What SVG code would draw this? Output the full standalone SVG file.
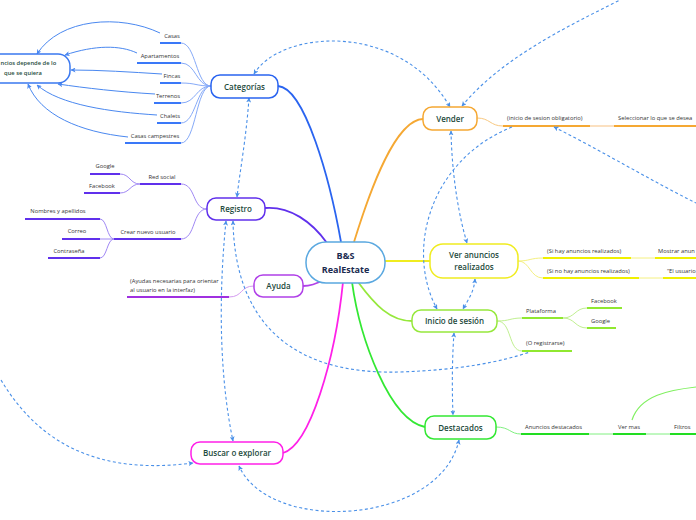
<svg xmlns="http://www.w3.org/2000/svg" width="696" height="520" viewBox="0 0 696 520">
<style>
.node{fill:#fff;stroke-width:1.5}
.nt{font-family:"Open Sans","Liberation Sans",sans-serif;font-size:8px;font-weight:600;fill:#1d4a3c;text-anchor:middle}
.ct{font-family:"Open Sans","Liberation Sans",sans-serif;font-size:9px;font-weight:700;fill:#1a2a50;text-anchor:middle}
.lt{font-family:"Open Sans","Liberation Sans",sans-serif;font-size:5.8px;fill:#333}
.m{text-anchor:middle}
.br{fill:none;stroke-width:1.8}
.sub{fill:none;stroke-width:1}
.ul{fill:none;stroke-width:2}
.dash{fill:none;stroke:#4a90e8;stroke-width:1.1;stroke-dasharray:3 2.5}
.sol{fill:none;stroke:#4a88f0;stroke-width:1}
</style>
<defs>
<marker id="ad" markerUnits="userSpaceOnUse" markerWidth="5" markerHeight="5" refX="4.5" refY="2.5" orient="auto-start-reverse"><path d="M0,0 L5,2.5 L0,5 L1.2,2.5 z" fill="#4a90e8"/></marker>
<marker id="as" markerUnits="userSpaceOnUse" markerWidth="5" markerHeight="5" refX="4.5" refY="2.5" orient="auto-start-reverse"><path d="M0,0 L5,2.5 L0,5 L1.2,2.5 z" fill="#4a88f0"/></marker>
</defs>

<g id="connectors">
<!-- main branches -->
<path class="br" stroke="#2a64f0" d="M341,242 C330,180 305,88 278,86"/>
<path class="br" stroke="#6030ec" d="M265,208 C290,206 312,222 327,243"/>
<path class="br" stroke="#b040e8" d="M303,286 C312,286 318,283 323,280"/>
<path class="br" stroke="#ff20e8" d="M343,282 C335,360 310,445 283,453"/>
<path class="br" stroke="#f5a833" d="M354,242 C370,190 395,120 423,119"/>
<path class="br" stroke="#f0ec20" d="M385,261 L430,261"/>
<path class="br" stroke="#96e83c" d="M358,282 C375,305 390,321 412,321"/>
<path class="br" stroke="#33e833" d="M352,282 C360,340 390,420 425,427"/>

<!-- Categorias subs -->
<g stroke="#86aaf8">
<path class="sub" d="M211,86 C196,86 196,43 181,43"/>
<path class="sub" d="M211,86 C196,86 196,63 181,63"/>
<path class="sub" d="M211,86 C196,86 196,83 181,83"/>
<path class="sub" d="M211,86 C196,86 196,103 181,103"/>
<path class="sub" d="M211,86 C196,86 196,123 181,123"/>
<path class="sub" d="M211,86 C196,86 196,143 181,143"/>
</g>
<g stroke="#3a78f8">
<path class="ul" d="M160,43 H181"/>
<path class="ul" d="M137,63 H181"/>
<path class="ul" d="M160,83 H181"/>
<path class="ul" d="M154,103 H181"/>
<path class="ul" d="M157,123 H181"/>
<path class="ul" d="M125,143 H181"/>
</g>
<path class="sol" marker-end="url(#as)" d="M160,33 C120,14 60,18 37,54"/>
<path class="sol" marker-end="url(#as)" d="M137,53 C120,45 95,45 65,55"/>
<path class="sol" marker-end="url(#as)" d="M162,74 C130,72 100,70 71,70"/>
<path class="sol" marker-end="url(#as)" d="M155,94 C120,92 85,88 58,84"/>
<path class="sol" marker-end="url(#as)" d="M157,115 C110,112 60,105 37,85"/>
<path class="sol" marker-end="url(#as)" d="M128,137 C80,132 40,115 28,84"/>

<!-- Registro subs -->
<g stroke="#a088f4">
<path class="sub" d="M207,209 C192,209 196,184 181,184"/>
<path class="sub" d="M207,209 C192,209 196,239 181,239"/>
<path class="sub" d="M140,184 C130,184 130,174 120,174"/>
<path class="sub" d="M140,184 C130,184 130,193 120,193"/>
<path class="sub" d="M114,239 C107,239 107,219 100,219"/>
<path class="sub" d="M114,239 L100,239"/>
<path class="sub" d="M114,239 C107,239 107,258 100,258"/>
</g>
<g stroke="#6030ec">
<path class="ul" d="M140,184 H181"/>
<path class="ul" d="M90,174 H120"/>
<path class="ul" d="M84,193 H120"/>
<path class="ul" d="M114,239 H181"/>
<path class="ul" d="M25,219 H100"/>
<path class="ul" d="M62,239 H100"/>
<path class="ul" d="M48,258 H100"/>
</g>

<!-- Ayuda sub -->
<path class="sub" stroke="#d49af0" d="M254,286 C240,286 243,297 229,297"/>
<path class="ul" stroke="#a030e0" d="M127,297 H229"/>

<!-- Vender subs -->
<path class="sub" stroke="#f8c880" d="M477,118 C490,118 490,126 503,126"/>
<path class="ul" stroke="#f5a833" d="M503,126 H590"/>
<path class="ul" stroke="#fbe0c0" d="M590,126 H614"/>
<path class="ul" stroke="#f5a833" d="M614,126 H696"/>

<!-- Ver subs -->
<path class="sub" stroke="#f4f080" d="M518,261 C530,261 530,258 543,258"/>
<path class="sub" stroke="#f4f080" d="M518,261 C530,261 530,278 543,278"/>
<path class="ul" stroke="#f0f000" d="M543,258 H631"/>
<path class="ul" stroke="#f0f000" d="M543,278 H639"/>
<path class="sub" stroke="#f4f080" d="M631,258 H655"/>
<path class="sub" stroke="#f4f080" d="M639,278 H663"/>
<path class="ul" stroke="#f0f000" d="M655,258 H696"/>
<path class="ul" stroke="#f0f000" d="M663,278 H696"/>

<!-- Inicio subs -->
<path class="sub" stroke="#c0f090" d="M497,321 C510,321 510,318 522,318"/>
<path class="sub" stroke="#c0f090" d="M497,321 C512,321 508,351 522,351"/>
<path class="sub" stroke="#c0f090" d="M563,318 C575,318 575,308 587,308"/>
<path class="sub" stroke="#c0f090" d="M563,318 C575,318 575,328 587,328"/>
<path class="ul" stroke="#90e830" d="M522,318 H563"/>
<path class="ul" stroke="#90e830" d="M522,351 H572"/>
<path class="ul" stroke="#90e830" d="M587,308 H622"/>
<path class="ul" stroke="#90e830" d="M587,328 H616"/>

<!-- Destacados subs -->
<path class="sub" stroke="#80f080" d="M496,427 C510,427 510,434 521,434"/>
<path class="ul" stroke="#22dd22" d="M521,434 H589"/>
<path class="sub" stroke="#80f080" d="M589,434 H613"/>
<path class="ul" stroke="#22dd22" d="M613,434 H646"/>
<path class="sub" stroke="#80f080" d="M646,434 H670"/>
<path class="ul" stroke="#22dd22" d="M670,434 H696"/>
<path fill="none" stroke="#80f060" stroke-width="1.2" d="M632,420 C640,395 670,390 696,387"/>

<!-- dashed relations -->
<path class="dash" marker-start="url(#ad)" marker-end="url(#ad)" d="M254,74 C280,30 400,20 450,107"/>
<path class="dash" marker-start="url(#ad)" d="M462,106 C500,60 560,30 620,0"/>
<path class="dash" marker-start="url(#ad)" marker-end="url(#ad)" d="M451,131 C452,180 460,220 467,243"/>
<path class="dash" marker-end="url(#ad)" d="M512,127 C430,160 405,250 437,309"/>
<path class="dash" marker-start="url(#ad)" marker-end="url(#ad)" d="M475,279 C474,292 468,300 463,309"/>
<path class="dash" marker-start="url(#ad)" marker-end="url(#ad)" d="M454,333 C452,360 452,390 453,415"/>
<path class="dash" marker-start="url(#ad)" marker-end="url(#ad)" d="M459,440 C440,525 270,535 239,466"/>
<path class="dash" marker-start="url(#ad)" marker-end="url(#ad)" d="M226,221 C218,300 220,380 233,441"/>
<path class="dash" marker-start="url(#ad)" d="M233,221 C235,330 300,375 400,372 C460,370 500,362 530,352"/>
<path class="dash" marker-start="url(#ad)" marker-end="url(#ad)" d="M249,98 C246,140 240,170 237,197"/>
<path class="dash" marker-end="url(#ad)" d="M1,380 C40,445 100,475 193,463"/>
<path class="dash" marker-start="url(#ad)" d="M554,127 C600,150 650,180 696,203"/>
</g>

<g id="central">
<rect class="node" x="306" y="242" width="79" height="41" rx="20" stroke="#5aa8e0"/>
<text class="ct" x="345.5" y="259">B&amp;S</text>
<text class="ct" x="345.5" y="273">RealEstate</text>
</g>
<g id="categorias">
<rect class="node" x="211" y="75" width="67" height="23" rx="9" stroke="#2a64f0"/>
<text class="nt" x="244.5" y="89.5">Categorías</text>
</g>
<g id="anuncios-node">
<rect class="node" x="-26" y="54" width="96" height="29" rx="12" stroke="#3a78f0"/>
<text class="nt" x="0.5" y="65" style="text-anchor:start;font-size:5.8px">ncios depende de lo</text>
<text class="nt" x="23" y="75" style="font-size:5.8px">que se quiera</text>
</g>
<g id="registro">
<rect class="node" x="207" y="198" width="58" height="22" rx="9" stroke="#6030ec"/>
<text class="nt" x="236" y="212">Registro</text>
</g>
<g id="ayuda">
<rect class="node" x="254" y="275" width="49" height="22" rx="9" stroke="#b040e8"/>
<text class="nt" x="278.5" y="289">Ayuda</text>
</g>
<g id="buscar">
<rect class="node" x="191" y="442" width="92" height="22" rx="9" stroke="#ff20e8"/>
<text class="nt" x="237" y="456">Buscar o explorar</text>
</g>
<g id="vender">
<rect class="node" x="423" y="107" width="54" height="23" rx="9" stroke="#f5a833"/>
<text class="nt" x="450" y="121.5">Vender</text>
</g>
<g id="ver">
<rect class="node" x="430" y="244" width="88" height="34" rx="13" stroke="#f0ec20"/>
<text class="nt" x="474" y="258">Ver anuncios</text>
<text class="nt" x="474" y="270">realizados</text>
</g>
<g id="inicio">
<rect class="node" x="412" y="310" width="85" height="22" rx="9" stroke="#96e83c"/>
<text class="nt" x="454.5" y="324">Inicio de sesión</text>
</g>
<g id="destacados">
<rect class="node" x="425" y="416" width="71" height="23" rx="9" stroke="#33e833"/>
<text class="nt" x="460.5" y="430.5">Destacados</text>
</g>

<g id="labels">
<text class="lt m" x="172" y="38">Casas</text>
<text class="lt m" x="160" y="58">Apartamentos</text>
<text class="lt m" x="172" y="78">Fincas</text>
<text class="lt m" x="168" y="98">Terrenos</text>
<text class="lt m" x="170" y="118">Chalets</text>
<text class="lt m" x="155" y="138">Casas campestres</text>
<text class="lt m" x="105" y="168">Google</text>
<text class="lt m" x="102" y="188">Facebook</text>
<text class="lt m" x="162" y="179">Red social</text>
<text class="lt m" x="148" y="234">Crear nuevo usuario</text>
<text class="lt m" x="58" y="213">Nombres y apellidos</text>
<text class="lt m" x="77" y="233">Correo</text>
<text class="lt m" x="69" y="253">Contraseña</text>
<text class="lt" x="130" y="283">(Ayudas necesarias para orientar</text>
<text class="lt" x="130" y="292">al usuario en la interfaz)</text>
<text class="lt" x="507" y="120">(inicio de sesion obligatorio)</text>
<text class="lt" x="618" y="120">Seleccionar lo que se desea</text>
<text class="lt" x="547" y="253">(Si hay anuncios realizados)</text>
<text class="lt" x="658" y="253">Mostrar anun</text>
<text class="lt" x="547" y="273">(Si no hay anuncios realizados)</text>
<text class="lt" x="667" y="273">“El usuario</text>
<text class="lt" x="526" y="313">Plataforma</text>
<text class="lt" x="591" y="303">Facebook</text>
<text class="lt" x="591" y="323">Google</text>
<text class="lt" x="526" y="345">(O registrarse)</text>
<text class="lt" x="525" y="429">Anuncios destacados</text>
<text class="lt" x="618" y="429">Ver mas</text>
<text class="lt" x="674" y="429">Filtros</text>
</g>
</svg>
